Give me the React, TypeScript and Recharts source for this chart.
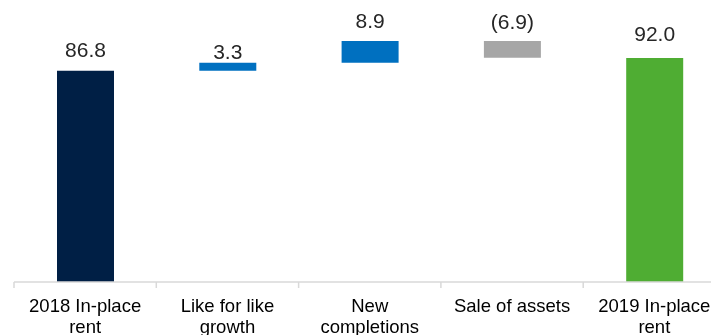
import React from "react";
import { BarChart, Bar, XAxis, YAxis, Cell, LabelList } from "recharts";

// ---- Data ----
const categories = [
  "2018 In-place\nrent",
  "Like for like\ngrowth",
  "New\ncompletions",
  "Sale of assets",
  "2019 In-place\nrent",
];
const startValue = 86.8;
const deltas = [3.3, 8.9, -6.9];
const endValue = 92.0;
const valueLabels = ["86.8", "3.3", "8.9", "(6.9)", "92.0"];

// ---- Styles / layout ----
const barColors = ["#001f45", "#0070c0", "#0070c0", "#a6a6a6", "#4fad33"];
const labelGaps = [14, 4, 13, 12, 17];
const CHART_W = 730;
const CHART_H = 327;
const MARGIN = { top: 30.6, right: 12.5, bottom: 3, left: 6 };
const PLOT_W = CHART_W - MARGIN.left - MARGIN.right;
const BAND = PLOT_W / categories.length;
const FONT = "'Liberation Sans', Arial, sans-serif";

// Build waterfall rows
const rows: { name: string; range: [number, number] }[] = [];
rows.push({ name: categories[0], range: [0, startValue] });
let running = startValue;
deltas.forEach((d, i) => {
  const next = running + d;
  rows.push({
    name: categories[i + 1],
    range: [Math.min(running, next), Math.max(running, next)],
  });
  running = next;
});
rows.push({ name: categories[categories.length - 1], range: [0, endValue] });

const AxisTick = (props: any) => {
  const { x, y, payload, index } = props;
  const lines = String(payload.value).split("\n");
  return (
    <g>
      <line x1={x - BAND / 2} x2={x - BAND / 2} y1={y} y2={y + 6} stroke="#d9d9d9" strokeWidth={1.5} />
      {index === categories.length - 1 && (
        <line x1={x + BAND / 2} x2={x + BAND / 2} y1={y} y2={y + 6} stroke="#d9d9d9" strokeWidth={1.5} />
      )}
      {lines.map((l, i) => (
        <text
          key={i}
          x={x}
          y={y + 29.5 + i * 21.5}
          textAnchor="middle"
          fontFamily={FONT}
          fontSize={18.5}
          fill="#000"
        >
          {l}
        </text>
      ))}
    </g>
  );
};

const ValueLabel = (props: any) => {
  const { x, y, width, index } = props;
  return (
    <text
      x={x + width / 2}
      y={y - labelGaps[index]}
      textAnchor="middle"
      fontFamily={FONT}
      fontSize={21}
      fill="#262626"
    >
      {valueLabels[index]}
    </text>
  );
};

export default function App() {
  return (
    <div style={{ position: "fixed", top: 8, left: 8, width: 703, height: 327, overflow: "hidden" }}>
      <BarChart width={CHART_W} height={CHART_H} data={rows} margin={MARGIN}>
        <XAxis
          dataKey="name"
          interval={0}
          height={50}
          tickSize={0}
          tickMargin={0}
          tickLine={false}
          axisLine={{ stroke: "#d9d9d9", strokeWidth: 1.5 }}
          tick={<AxisTick />}
        />
        <YAxis hide domain={[0, 100]} />
        <Bar dataKey="range" barSize={57} isAnimationActive={false}>
          {rows.map((_, i) => (
            <Cell key={i} fill={barColors[i]} />
          ))}
          <LabelList dataKey="range" content={<ValueLabel />} />
        </Bar>
      </BarChart>
    </div>
  );
}
